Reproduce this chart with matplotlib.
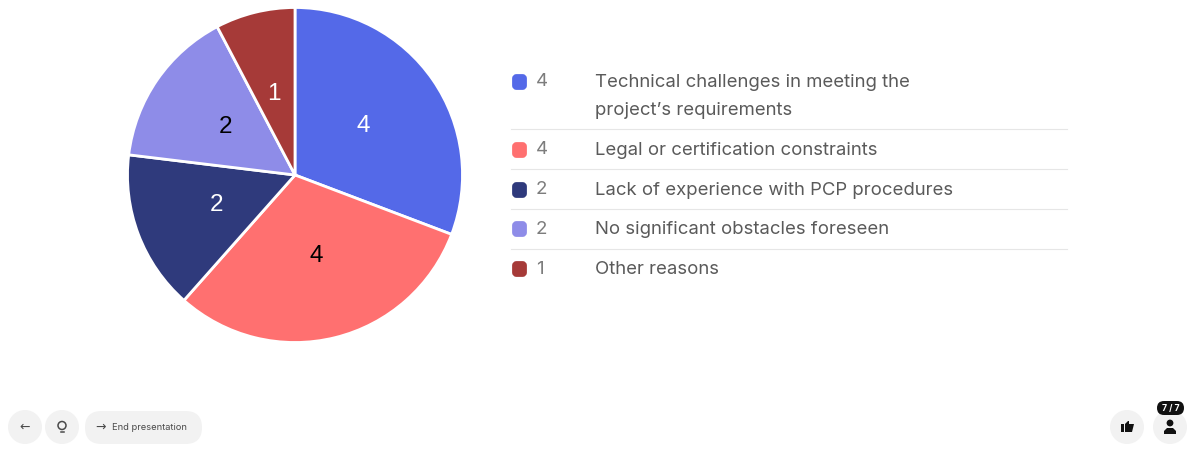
import matplotlib
matplotlib.use("Agg")
import matplotlib.pyplot as plt
from matplotlib.patches import Circle, FancyBboxPatch, Polygon, Rectangle

W, H = 1199, 453

labels = ["Technical challenges in meeting the\nproject\u2019s requirements",
          "Legal or certification constraints",
          "Lack of experience with PCP procedures",
          "No significant obstacles foreseen",
          "Other reasons"]
values = [4, 4, 2, 2, 1]
colors = ["#5469E8", "#FF7070", "#2F3A7C", "#8E8CE8", "#A63A38"]
pie_text_colors = ["white", "black", "white", "black", "white"]
row_y = [82, 150, 190, 229, 269]
sep_y = [129, 169, 209, 249]

plt.rcParams["font.family"] = ["Inter", "DejaVu Sans"]
fig = plt.figure(figsize=(W / 100, H / 100), dpi=100)

# background layer in pixel coordinates
bg = fig.add_axes([0, 0, 1, 1])
bg.set_xlim(0, W)
bg.set_ylim(H, 0)
bg.axis("off")

# pie
R = 167.5
cx, cy = 295, 175
pad = 172
ax = fig.add_axes([(cx - pad) / W, 1 - (cy + pad) / H, 2 * pad / W, 2 * pad / H])
wedges, _ = ax.pie(values, colors=colors, startangle=90, counterclock=False,
                   radius=1, wedgeprops={"edgecolor": "white", "linewidth": 2})
ax.set_xlim(-pad / R, pad / R)
ax.set_ylim(-pad / R, pad / R)
ax.set_aspect("equal")
pie_label_xy = [(363.5, 126), (316, 256), (216.5, 205), (225, 127), (274, 94)]
for v, c, (x, y) in zip(values, pie_text_colors, pie_label_xy):
    bg.text(x, y, str(v), color=c, fontsize=17.5, family="Liberation Sans",
            ha="center", va="center", zorder=5)
ax.set_zorder(1)
bg.set_zorder(2)
bg.patch.set_alpha(0)

# legend table
for y in sep_y:
    bg.plot([511, 1067], [y, y], color="#E6E6E6", lw=0.8)
for y, v, c, lab in zip(row_y, values, colors, labels):
    bg.add_patch(FancyBboxPatch((513.5, y - 6.5), 12, 13, boxstyle="round,pad=0,rounding_size=3",
                                fc=c, ec=c, lw=2, joinstyle="round"))
    bg.text(536, y, str(v), color="#7D7D7D", fontsize=13.5, va="center", ha="left")
    parts = lab.split("\n")
    for i, p in enumerate(parts):
        bg.text(595, y + 0.5 + i * 28, p, color="#5A5A5A", fontsize=13.35, va="center", ha="left")

# bottom buttons
btn = "#F2F2F2"
ink = "#4A4A4A"
for x in [25, 62, 1127, 1170]:
    bg.add_patch(Circle((x, 427), 17, fc=btn, ec="none"))
bg.add_patch(FancyBboxPatch((85, 411), 117, 33, boxstyle="round,pad=0,rounding_size=16.5",
                            fc=btn, ec="none"))
bg.text(25, 427, "\u2190", fontsize=9, color=ink, ha="center", va="center", family="DejaVu Sans")
bg.text(101, 427, "\u2192", fontsize=9, color=ink, ha="center", va="center", family="DejaVu Sans")
bg.text(112, 427, "End presentation", fontsize=6.7, color=ink, ha="left", va="center")

# bulb icon
bg.add_patch(Circle((62, 425.5), 4, fc="none", ec=ink, lw=1.1))
bg.plot([60.5, 63.5], [432, 432], color=ink, lw=1.1)

# thumb icon
bg.add_patch(Rectangle((1121, 424), 3, 8, fc="#111111", ec="none"))
bg.add_patch(Polygon([(1125, 424), (1128, 421), (1129, 421), (1129, 424), (1134, 424),
                      (1132, 432), (1125, 432)], fc="#111111", ec="none"))

# person icon
bg.add_patch(Circle((1170, 423), 3.4, fc="#111111", ec="none"))
bg.add_patch(Polygon([(1164, 434), (1164, 431), (1167, 428), (1173, 428), (1176, 431), (1176, 434)],
                     fc="#111111", ec="none"))

# participant badge
bg.add_patch(FancyBboxPatch((1157, 401), 27, 14, boxstyle="round,pad=0,rounding_size=7",
                            fc="#111111", ec="none"))
bg.text(1170.5, 408, "7 / 7", fontsize=6.2, color="white", weight="bold", ha="center", va="center")

fig.savefig("out.png", dpi=100, facecolor="white")
